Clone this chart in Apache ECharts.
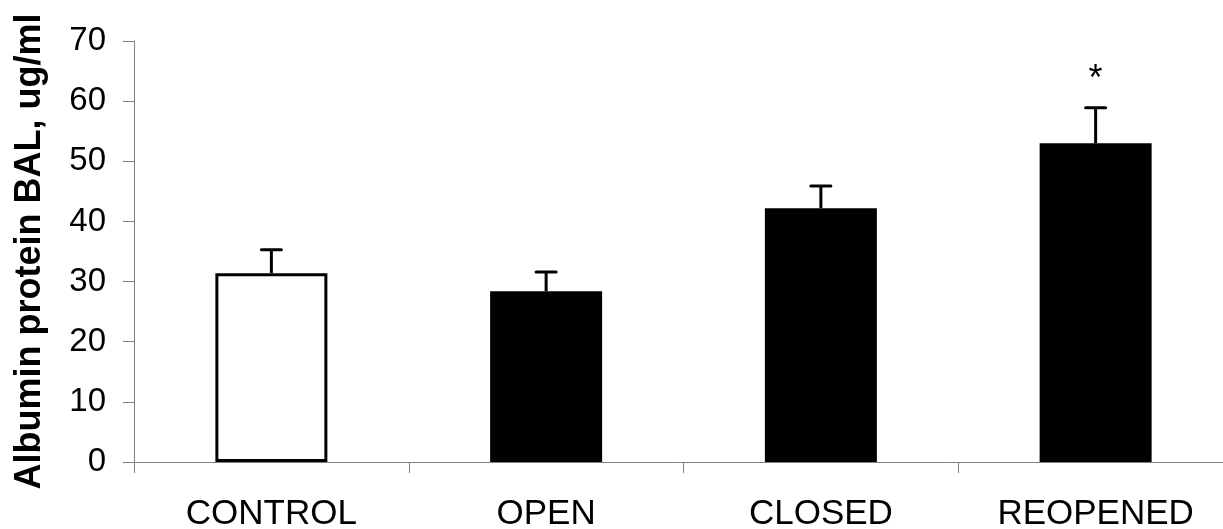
<!DOCTYPE html>
<html>
<head>
<meta charset="utf-8">
<script src="https://cdn.jsdelivr.net/npm/echarts@6/dist/echarts.min.js"></script>
<style>
html,body{margin:0;padding:0;background:#fff;}
#chart{width:1223px;height:529px;}
</style>
</head>
<body>
<div id="chart"></div>
<script>
var categories = ['CONTROL', 'OPEN', 'CLOSED', 'REOPENED'];
var means = [31.4, 28.4, 42.2, 53.0];
var errorTops = [35.3, 31.6, 45.9, 58.9];
var significance = ['', '', '', '*'];
var yTicks = [0, 10, 20, 30, 40, 50, 60, 70];

var FONT = 'Arial, "Liberation Sans", Helvetica, sans-serif';
var chart = echarts.init(document.getElementById('chart'), null, {renderer: 'canvas'});

var barData = means.map(function (v, i) {
  return {
    value: v,
    itemStyle: i === 0
      ? {color: '#ffffff', borderColor: '#000000', borderWidth: 3}
      : {color: '#000000', borderColor: '#000000', borderWidth: 0}
  };
});

var errData = means.map(function (v, i) { return [i, v, errorTops[i]]; });

chart.setOption({
  animation: false,
  backgroundColor: '#ffffff',
  grid: {left: 134, right: -10, top: 41, bottom: 67, containLabel: false, outerBoundsMode: 'none'},
  xAxis: {
    type: 'category',
    data: categories,
    boundaryGap: true,
    axisLine: {show: true, lineStyle: {color: '#808080', width: 1}},
    axisTick: {show: true, length: 11, alignWithLabel: false, lineStyle: {color: '#808080', width: 1}},
    axisLabel: {color: '#000', fontSize: 35, fontFamily: FONT, margin: 35, interval: 0}
  },
  yAxis: {
    type: 'value',
    min: yTicks[0],
    max: yTicks[yTicks.length - 1],
    interval: 10,
    name: 'Albumin protein BAL, ug/ml',
    nameLocation: 'middle',
    nameRotate: 90,
    nameGap: 86,
    nameTextStyle: {color: '#000', fontSize: 36, fontWeight: 'bold', fontFamily: FONT},
    splitLine: {show: false},
    axisLine: {show: true, lineStyle: {color: '#808080', width: 1}},
    axisTick: {show: true, length: 11, lineStyle: {color: '#808080', width: 1}},
    axisLabel: {color: '#000', fontSize: 33, fontFamily: FONT, margin: 28}
  },
  series: [
    {
      type: 'bar',
      data: barData,
      barWidth: 112,
      z: 2
    },
    {
      type: 'custom',
      data: errData,
      z: 3,
      renderItem: function (params, api) {
        var i = api.value(0);
        var base = api.coord([i, api.value(1)]);
        var top = api.coord([i, api.value(2)]);
        var x = base[0];
        var children = [
          {type: 'line', shape: {x1: x, y1: base[1], x2: x, y2: top[1]},
           style: {stroke: '#000', lineWidth: 3}},
          {type: 'line', shape: {x1: x - 10, y1: top[1], x2: x + 10, y2: top[1]},
           style: {stroke: '#000', lineWidth: 3, lineCap: 'round'}}
        ];
        var sig = significance[params.dataIndex];
        if (sig) {
          children.push({type: 'text', x: x, y: top[1] - 28,
            style: {text: sig, fill: '#000', font: '36px ' + FONT, align: 'center', verticalAlign: 'middle'}});
        }
        return {type: 'group', children: children};
      }
    }
  ]
});
</script>
</body>
</html>
